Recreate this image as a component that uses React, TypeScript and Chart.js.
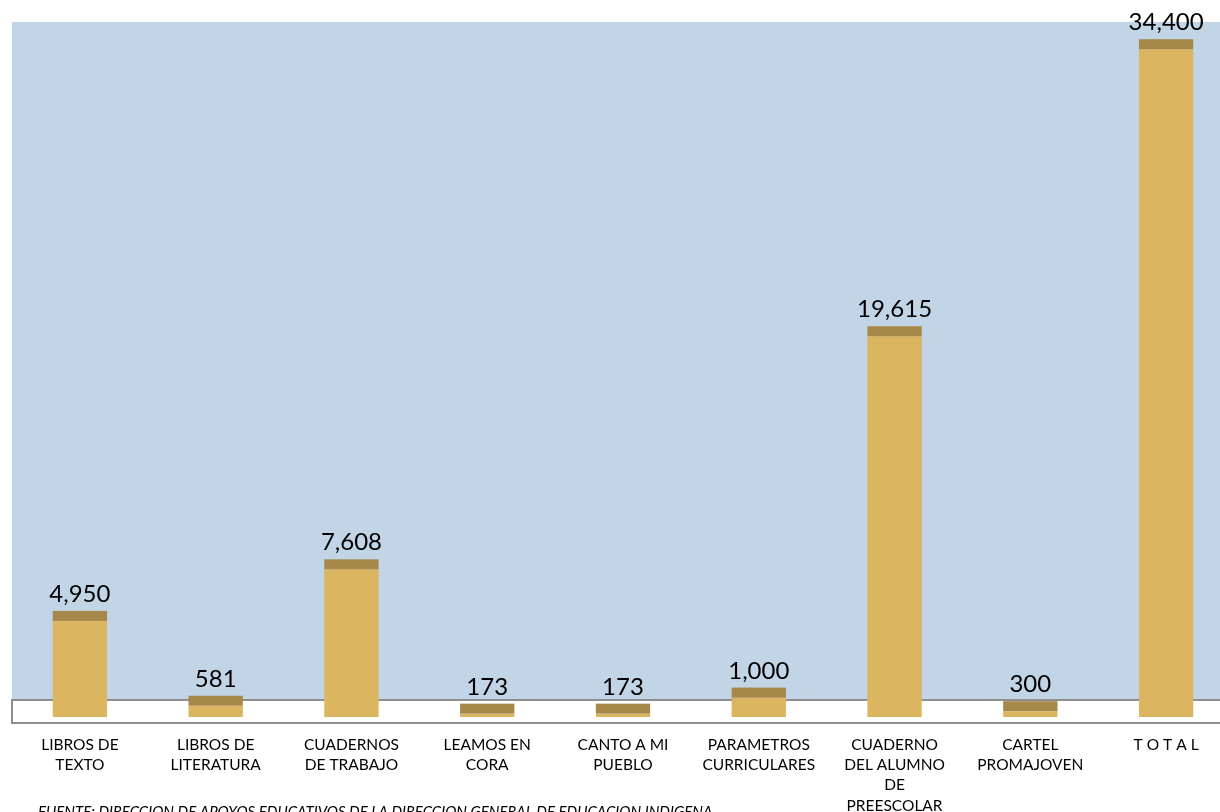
import React, { useEffect, useRef } from "react";
import { Chart, registerables } from "chart.js";

Chart.register(...registerables);

const categories: string[][] = [
  ["LIBROS DE", "TEXTO"],
  ["LIBROS DE", "LITERATURA"],
  ["CUADERNOS", "DE TRABAJO"],
  ["LEAMOS EN", "CORA"],
  ["CANTO A MI", "PUEBLO"],
  ["PARAMETROS", "CURRICULARES"],
  ["CUADERNO", "DEL ALUMNO", "DE", "PREESCOLAR"],
  ["CARTEL", "PROMAJOVEN"],
  ["T O T A L"],
];
const values: number[] = [4950, 581, 7608, 173, 173, 1000, 19615, 300, 34400];
const footnote = "FUENTE: DIRECCION DE APOYOS EDUCATIVOS DE LA DIRECCION GENERAL DE EDUCACION INDIGENA";

const FONT = "Lato, 'Open Sans', sans-serif";
const BG = "rgb(194,213,231)";
const GOLD = "rgb(220,181,96)";
const CAP = "rgb(166,136,74)";
const FLOOR_LINE = "rgb(142,142,142)";

export default function App() {
  const ref = useRef<HTMLCanvasElement | null>(null);
  useEffect(() => {
    document.body.style.margin = "0";
    const canvas = ref.current!;
    const decor = {
      id: "decor",
      beforeDatasetsDraw(chart: any) {
        const ctx = chart.ctx;
        const area = chart.chartArea;
        ctx.save();
        ctx.fillStyle = BG;
        ctx.fillRect(area.left, area.top, 1240 - area.left, 699 - area.top);
        ctx.fillStyle = "#ffffff";
        ctx.fillRect(area.left, 700, 1240 - area.left, 23);
        ctx.strokeStyle = FLOOR_LINE;
        ctx.lineWidth = 2;
        ctx.beginPath();
        ctx.moveTo(1240, 700);
        ctx.lineTo(area.left, 700);
        ctx.lineTo(area.left, 723);
        ctx.lineTo(1240, 723);
        ctx.stroke();
        ctx.restore();
      },
      afterDatasetsDraw(chart: any) {
        const ctx = chart.ctx;
        const meta = chart.getDatasetMeta(0);
        ctx.save();
        meta.data.forEach((el: any, i: number) => {
          const w = el.width;
          ctx.fillStyle = CAP;
          ctx.fillRect(el.x - w / 2, el.y - 10, w, 10);
          ctx.fillStyle = "#000";
          ctx.font = `24px ${FONT}`;
          ctx.textAlign = "center";
          ctx.textBaseline = "alphabetic";
          ctx.fillText(values[i].toLocaleString("en-US"), el.x, el.y - 19);
        });
        ctx.font = `italic 15px ${FONT}`;
        ctx.textAlign = "left";
        ctx.fillStyle = "#000";
        ctx.fillText(footnote, 38, 817);
        ctx.restore();
      },
    };
    const chart = new Chart(canvas, {
      type: "bar",
      data: {
        labels: categories,
        datasets: [
          {
            data: values,
            backgroundColor: GOLD,
            borderWidth: 0,
            categoryPercentage: 1,
            barPercentage: 0.4,
          },
        ],
      },
      options: {
        animation: false,
        responsive: false,
        layout: { padding: { top: 22, left: 12, right: 0, bottom: 0 } },
        plugins: { legend: { display: false }, tooltip: { enabled: false } },
        scales: {
          x: {
            grid: { display: false, drawTicks: false },
            border: { display: false },
            ticks: {
              color: "#000",
              font: { family: FONT, size: 15.5, lineHeight: 1.3 },
              padding: 18,
              maxRotation: 0,
              autoSkip: false,
            },
            afterFit: (s: any) => {
              s.height = 95;
            },
          },
          y: {
            display: false,
            min: 0,
            max: 35800,
          },
        },
      },
      plugins: [decor],
    });
    return () => chart.destroy();
  }, []);
  return (
    <div style={{ position: "relative", width: 1220, height: 812, overflow: "hidden" }}>
      <canvas ref={ref} width={1234} height={812} style={{ width: 1234, height: 812, display: "block" }} />
    </div>
  );
}
